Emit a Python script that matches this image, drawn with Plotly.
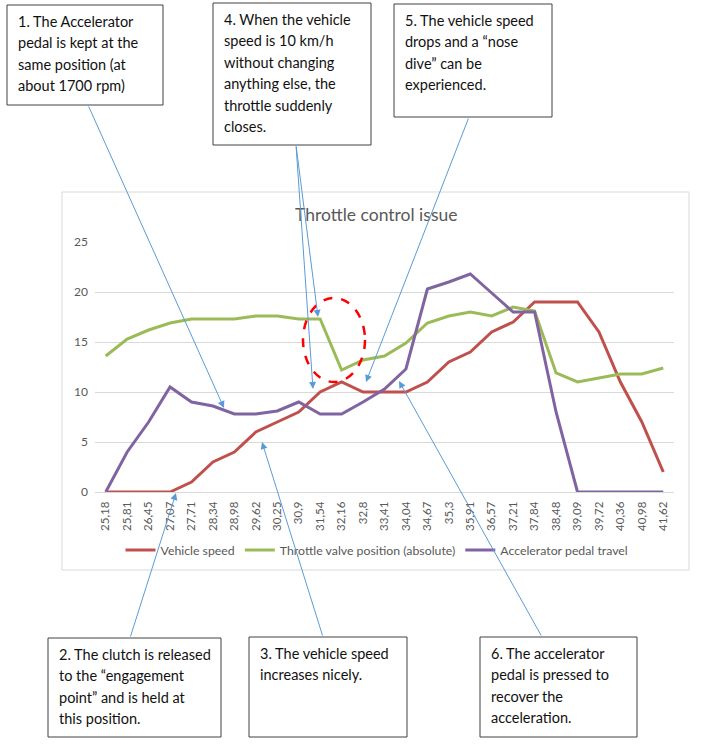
import plotly.graph_objects as go

# ---------------- data ----------------
categories = ["25,18", "25,81", "26,45", "27,07", "27,71", "28,34", "28,98", "29,62",
              "30,25", "30,9", "31,54", "32,16", "32,8", "33,41", "34,04", "34,67",
              "35,3", "35,91", "36,57", "37,21", "37,84", "38,48", "39,09", "39,72",
              "40,36", "40,98", "41,62"]
vehicle_speed = [0, 0, 0, 0, 1, 3, 4, 6, 7, 8, 10, 11, 10, 10, 10, 11, 13, 14, 16, 17,
                 19, 19, 19, 16, 11, 7, 2]
throttle_position = [13.6, 15.3, 16.2, 16.9, 17.3, 17.3, 17.3, 17.6, 17.6, 17.3, 17.3,
                     12.2, 13.2, 13.6, 14.9, 16.9, 17.6, 18.0, 17.6, 18.5, 18.1, 11.9,
                     11.0, 11.4, 11.8, 11.8, 12.4]
pedal_travel = [0, 4.0, 7.0, 10.5, 9.0, 8.6, 7.8, 7.8, 8.1, 9.0, 7.8, 7.8, 9.0, 10.3,
                12.3, 20.3, 21.0, 21.8, 19.9, 18.0, 18.0, 8.0, 0, 0, 0, 0, 0]
series_names = ["Vehicle speed", "Throttle valve position (absolute)", "Accelerator pedal travel"]
chart_title = "Throttle control issue"
y_ticks = [0, 5, 10, 15, 20, 25]

box1_lines = ["1. The Accelerator", "pedal is kept at the", "same position (at", "about 1700 rpm)"]
box2_lines = ["2. The clutch is released", "to the \u201cengagement", "point\u201d and is held at", "this position."]
box3_lines = ["3. The vehicle speed", "increases nicely."]
box4_lines = ["4. When the vehicle", "speed is 10 km/h", "without changing", "anything else, the",
              "throttle suddenly", "closes."]
box5_lines = ["5. The vehicle speed", "drops and a \u201cnose", "dive\u201d can be", "experienced."]
box6_lines = ["6. The accelerator", "pedal is pressed to", "recover the", "acceleration."]

# ---------------- layout helpers (pixel -> paper) ----------------
FIG_W, FIG_H = 707, 750
PL, PR, PT, PB = 95, 674, 242, 492
PW, PH = PR - PL, PB - PT


def px(x):
    return (x - PL) / PW


def py(y):
    return (PB - y) / PH


FONT = "Lato, 'Liberation Sans', sans-serif"
GRAY = "#595959"
colors = ["#C0504D", "#9BBB59", "#8064A2"]

fig = go.Figure()
for vals, name, col in zip([vehicle_speed, throttle_position, pedal_travel], series_names, colors):
    fig.add_trace(go.Scatter(x=categories, y=vals, mode="lines", name=name,
                             line=dict(color=col, width=3)))

shapes = []
annotations = []

# chart frame
shapes.append(dict(type="rect", xref="paper", yref="paper", x0=px(62), x1=px(689),
                   y0=py(570), y1=py(192), line=dict(color="#D9D9D9", width=1),
                   fillcolor="rgba(0,0,0,0)", layer="below"))

# title
annotations.append(dict(text=chart_title, x=px(375.5), y=py(215), xref="paper", yref="paper",
                        xanchor="center", yanchor="middle", showarrow=False,
                        font=dict(family=FONT, size=17.5, color=GRAY)))

# red dashed ellipse
shapes.append(dict(type="circle", xref="paper", yref="paper", x0=px(303), x1=px(365),
                   y0=py(382), y1=py(298), line=dict(color="#FF0000", width=2.5, dash="dash"),
                   layer="above"))

# callout boxes: (left, top, right, bottom), lines
boxes = [((7, 5, 163, 105), box1_lines),
         ((213, 3, 371, 145), box4_lines),
         ((394, 4, 552, 117), box5_lines),
         ((48, 638, 221, 737), box2_lines),
         ((249, 637, 407, 737), box3_lines),
         ((480, 637, 637, 737), box6_lines)]
for (l, t, r, b), lines in boxes:
    shapes.append(dict(type="rect", xref="paper", yref="paper", x0=px(l), x1=px(r),
                       y0=py(b), y1=py(t), line=dict(color="#404040", width=1),
                       fillcolor="white", layer="above"))
    for i, ln in enumerate(lines):
        annotations.append(dict(text=ln, x=px(l + 9), y=py(t + 16.5 + i * 21.4),
                                xref="paper", yref="paper", xanchor="left", yanchor="middle",
                                showarrow=False, font=dict(family=FONT, size=14.5, color="#111111")))

# arrows: (tip_x, tip_y, tail_x, tail_y)
arrows = [(224, 408, 88, 105),
          (318, 317, 296, 145),
          (313, 389, 296, 145),
          (366, 382, 469, 117),
          (176, 493, 130, 638),
          (262, 442, 323, 637),
          (399, 381, 542, 637)]
for tx, ty, sx, sy in arrows:
    annotations.append(dict(text="", x=px(tx), y=py(ty), xref="paper", yref="paper",
                            ax=sx - tx, ay=sy - ty, axref="pixel", ayref="pixel",
                            showarrow=True, arrowhead=2, arrowsize=1.4, arrowwidth=1,
                            arrowcolor="#5B9BD5", standoff=0, startstandoff=0))

fig.update_layout(
    width=FIG_W, height=FIG_H,
    margin=dict(l=PL, r=FIG_W - PR, t=PT, b=FIG_H - PB, autoexpand=False),
    paper_bgcolor="white", plot_bgcolor="white",
    showlegend=True,
    legend=dict(orientation="h", x=px(377), xanchor="center", y=py(550), yanchor="middle",
                font=dict(family=FONT, size=12.3, color=GRAY), bgcolor="rgba(0,0,0,0)",
                itemwidth=30, tracegroupgap=0),
    xaxis=dict(type="category", range=[-0.5, len(categories) - 0.5], tickangle=-90,
               showgrid=False, showline=True, linecolor="#D9D9D9", linewidth=1, ticks="",
               tickfont=dict(family=FONT, size=11.5, color=GRAY), automargin=False,
               ticklabelstandoff=4, fixedrange=True),
    yaxis=dict(range=[0, 25], tickvals=y_ticks, showgrid=True, gridcolor="#D9D9D9",
               gridwidth=1, zeroline=False, showline=False, ticks="",
               tickfont=dict(family=FONT, size=12, color=GRAY), automargin=False,
               ticklabelstandoff=6, fixedrange=True),
    shapes=shapes, annotations=annotations,
)

fig.write_html("out.html")
